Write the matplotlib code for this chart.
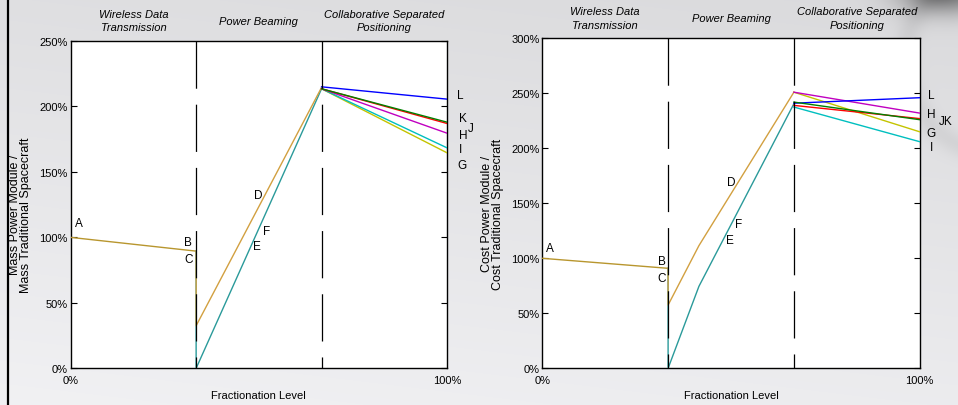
import numpy as np
import matplotlib
matplotlib.use("Agg")
import matplotlib.pyplot as plt
from matplotlib.transforms import blended_transform_factory
from matplotlib.ticker import FuncFormatter

plt.rcParams['font.family'] = ['Liberation Sans', 'DejaVu Sans']
plt.rcParams['lines.scale_dashes'] = False

# ---------------- data ----------------
levels = [0, 1/3, 2/3, 1]                 # fractionation level breakpoints
phase_names = ["Wireless Data\nTransmission", "Power Beaming",
               "Collaborative Separated\nPositioning"]
end_labels = ['G', 'H', 'I', 'J', 'K', 'L']
end_colors = ['#c4c400', '#c000c0', '#00bfbf', '#ff0000', '#008000', '#0000ff']
draw_order = [0, 2, 1, 5, 3, 4]

# Mass chart (left)
mass_trunk = [100, 89.5]                  # A -> B
mass_D = [32.5, 214.5]                    # D path at 1/3 and 2/3
mass_EF = [0, 213.5]                      # E/F path at 1/3 and 2/3
mass_peak = [213.5, 213.5, 213.5, 213.5, 213.5, 215.0]   # G..L at 2/3
mass_end = [164.6, 179.6, 168.4, 187.0, 188.0, 205.6]    # G..L at 100%
mass_yticks = [0, 50, 100, 150, 200, 250]

# Cost chart (right)
cost_trunk = [100, 90.9]
cost_kink = 0.415
cost_D = [57.5, 111.5, 251.0]             # at 1/3, kink, 2/3
cost_EF = [0, 74.5, 240.5]
cost_peak = [251.0, 251.0, 237.5, 239.0, 242.0, 241.0]
cost_end = [215.0, 232.0, 206.0, 227.0, 226.0, 246.0]
cost_yticks = [0, 50, 100, 150, 200, 250, 300]

trunk_color = '#b8962e'
D_color = '#d2a040'
EF_color = '#2a9a9a'

# point labels: (text, x, y)
mass_labels = [('A', 0.022, 111), ('B', 0.3125, 96.3), ('C', 0.3125, 83.5),
               ('D', 0.498, 132.5), ('F', 0.521, 104.7), ('E', 0.496, 93.7),
               ('L', 1.035, 208.8), ('K', 1.043, 191.2), ('J', 1.064, 183.6),
               ('H', 1.043, 178.2), ('I', 1.035, 167.5), ('G', 1.040, 155.3)]
cost_labels = [('A', 0.0204, 109.4), ('B', 0.316, 97.3), ('C', 0.316, 82.1),
               ('D', 0.500, 169.4), ('F', 0.519, 131.2), ('E', 0.497, 116.9),
               ('L', 1.030, 248.5), ('H', 1.030, 231.2), ('JK', 1.069, 224.8),
               ('G', 1.030, 214.0), ('I', 1.030, 201.2)]

# ---------------- figure ----------------
W, H = 958, 406
fig = plt.figure(figsize=(W / 100, H / 100), dpi=100)

# slide background
bg = fig.add_axes([0, 0, 1, 1], zorder=-10)
yy, xx = np.mgrid[0:H, 0:W]
v = 0.875 + 0.07 * (yy / H) - 0.02 * (xx / W)
v -= 0.42 * np.exp(-(((xx - 945) / 45.0) ** 2 + ((yy + 8) / 22.0) ** 2))
r = np.sqrt((xx - 1000) ** 2 + (yy - 60) ** 2)
v -= 0.05 * np.exp(-((r - 95) / 12.0) ** 2)
v = np.clip(v, 0, 1)
bg.imshow(np.dstack([v, v, v * 1.01]).clip(0, 1), extent=[0, W, H, 0], aspect='auto')
bg.set_xlim(0, W); bg.set_ylim(H, 0); bg.axis('off')
fig.add_artist(plt.Line2D([7.5 / W, 7.5 / W], [0, 1], color='black', lw=1.6,
                          transform=fig.transFigure))


def setup(ax, yticks, ymax, ylabel, labels, ylab_pos, head_y, head_ls):
    ax.set_xlim(0, 1)
    ax.set_ylim(0, ymax)
    ax.set_yticks(yticks)
    ax.yaxis.set_major_formatter(FuncFormatter(lambda t, p: f"{t:.0f}%"))
    ax.set_xticks([0, 1])
    ax.set_xticklabels(['0%', '100%'])
    ax.tick_params(direction='in', length=4, width=0.8, labelsize=8,
                   left=True, right=True, top=False, bottom=False, colors='black')
    ax.tick_params(axis='y', pad=2)
    ax.tick_params(axis='x', pad=5)
    for s in ax.spines.values():
        s.set_linewidth(1.0)
    ax.set_xlabel('Fractionation Level', fontsize=8)
    ax.xaxis.set_label_coords(0.5, -0.0816)
    ax.xaxis.label.set_va('center')
    ax.set_ylabel(ylabel, fontsize=9, linespacing=0.95)
    ax.yaxis.set_label_coords(*ylab_pos)
    ax.yaxis.label.set_va('center')
    ax.yaxis.label.set_multialignment('center')
    tr = blended_transform_factory(ax.transData, ax.transAxes)
    for i, name in enumerate(phase_names):
        xc = (levels[i] + levels[i + 1]) / 2
        ax.text(xc, head_y, name, transform=tr, ha='center', va='center',
                fontsize=8, style='italic', linespacing=head_ls, clip_on=False)
    for t, x, y in labels:
        ax.text(x, y, t, ha='center', va='center', fontsize=8.5, clip_on=False)
    for lv in levels[1:3]:
        ax.plot([lv, lv], [ymax, 0], color='black', lw=0.9, zorder=5,
                dashes=(34, 11.5))


# ---- left: mass ----
axL = fig.add_axes([70.7 / W, (H - 369.3) / H, 376.3 / W, 327.3 / H])
axL.set_facecolor('white')
axL.plot(levels[0:2], mass_trunk, color=trunk_color, lw=1.0, zorder=3)
axL.plot([levels[1], levels[1], levels[2]], [mass_trunk[1]] + mass_EF,
         color=EF_color, lw=1.0, zorder=3)
axL.plot([levels[1], levels[1], levels[2]], [mass_trunk[1]] + mass_D,
         color=D_color, lw=1.0, zorder=3)
for i in draw_order:
    axL.plot(levels[2:4], [mass_peak[i], mass_end[i]], color=end_colors[i],
             lw=1.0, zorder=3)
setup(axL, mass_yticks, 250,
      'Mass Power Module /\nMass Traditional Spacecraft', mass_labels,
      ((20.5 - 70.7) / 376.3, (369.3 - 215) / 327.3), 1.0626, 1.35)

# ---- right: cost ----
axR = fig.add_axes([542.3 / W, (H - 369.3) / H, 377.4 / W, 330.0 / H])
axR.set_facecolor('white')
axR.plot(levels[0:2], cost_trunk, color=trunk_color, lw=1.0, zorder=3)
axR.plot([levels[1], levels[1], cost_kink, levels[2]], [cost_trunk[1]] + cost_EF,
         color=EF_color, lw=1.0, zorder=3)
axR.plot([levels[1], levels[1], cost_kink, levels[2]], [cost_trunk[1]] + cost_D,
         color=D_color, lw=1.0, zorder=3)
for i in draw_order:
    axR.plot(levels[2:4], [cost_peak[i], cost_end[i]], color=end_colors[i],
             lw=1.0, zorder=3)
setup(axR, cost_yticks, 300,
      'Cost Power Module /\nCost Traditional Spacecraft', cost_labels,
      ((492.7 - 542.3) / 377.4, (369.3 - 214) / 330.0), 1.0615, 1.45)

fig.savefig('out.png', dpi=100)
